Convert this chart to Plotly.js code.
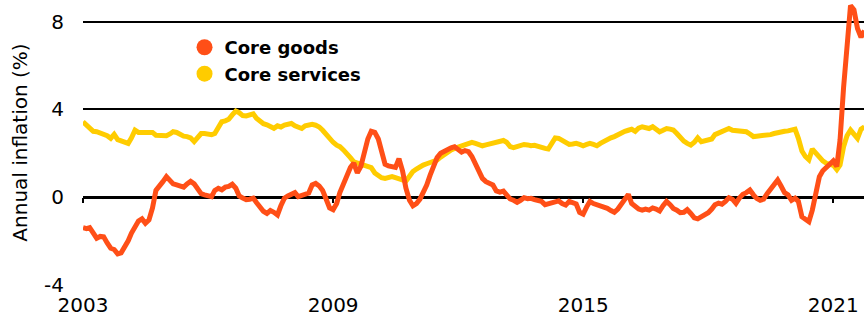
<!DOCTYPE html>
<html><head><meta charset="utf-8">
<script src="https://cdn.plot.ly/plotly-3.0.1.min.js"></script>
<style>html,body{margin:0;padding:0;background:#fff}#chart{width:864px;height:321px}</style>
</head><body><div id="chart"></div>
<script>
// Monthly annual inflation (%), starting January 2003
const startYear = 2003;
const coreGoods = [
 -1.40,-1.45,-1.40,-1.70,-1.88,-1.80,-1.82,-2.10,-2.34,-2.40,-2.60,-2.55,
 -2.30,-2.00,-1.65,-1.40,-1.10,-1.00,-1.20,-1.05,-0.50,0.30,0.55,0.70,
 0.93,0.75,0.60,0.55,0.50,0.45,0.60,0.72,0.60,0.40,0.15,0.10,
 0.05,0.02,0.30,0.40,0.33,0.45,0.48,0.58,0.40,0.05,-0.05,-0.12,
 -0.10,-0.05,-0.25,-0.45,-0.65,-0.75,-0.62,-0.70,-0.82,-0.40,-0.05,0.05,
 0.15,0.20,0.02,0.08,0.12,0.18,0.55,0.62,0.50,0.30,-0.10,-0.50,
 -0.58,-0.30,0.20,0.60,1.10,1.35,1.55,1.10,1.40,2.00,2.65,3.00,
 2.95,2.65,2.10,1.50,1.42,1.38,1.35,1.75,1.20,0.40,-0.15,-0.40,
 -0.30,-0.10,0.20,0.55,1.00,1.46,1.80,2.00,2.10,2.15,2.25,2.30,
 2.20,2.05,2.12,2.07,1.85,1.50,1.20,0.85,0.70,0.65,0.55,0.28,
 0.22,0.27,0.10,-0.09,-0.15,-0.24,-0.15,-0.03,-0.08,-0.06,-0.12,-0.14,
 -0.20,-0.35,-0.30,-0.25,-0.22,-0.18,-0.30,-0.37,-0.20,-0.25,-0.32,-0.70,
 -0.78,-0.45,-0.20,-0.30,-0.35,-0.45,-0.48,-0.52,-0.62,-0.70,-0.55,-0.35,
 -0.10,0.12,-0.30,-0.45,-0.55,-0.60,-0.55,-0.60,-0.50,-0.55,-0.64,-0.40,
 -0.20,-0.35,-0.52,-0.60,-0.72,-0.70,-0.58,-0.75,-0.95,-1.00,-0.92,-0.80,
 -0.72,-0.55,-0.35,-0.28,-0.33,-0.20,-0.03,-0.10,-0.29,-0.05,0.12,0.20,
 0.32,0.10,-0.06,-0.15,-0.10,0.15,0.35,0.60,0.78,0.50,0.20,0.10,
 -0.15,-0.05,-0.20,-0.90,-1.05,-1.13,-0.60,0.30,0.93,1.20,1.35,1.55,
 1.65,1.40,2.60,5.00,7.20,8.75,8.55,7.70,7.30,7.60
];
const coreServices = [
 3.44,3.30,3.10,3.00,2.98,2.92,2.90,2.80,2.68,2.86,2.62,2.55,
 2.50,2.45,2.70,3.05,2.95,2.95,3.00,2.98,2.95,2.82,2.80,2.80,
 2.80,2.88,2.98,2.95,2.85,2.78,2.76,2.70,2.53,2.75,2.90,2.90,
 2.88,2.85,2.90,3.15,3.44,3.48,3.55,3.75,3.93,3.85,3.72,3.70,
 3.75,3.80,3.60,3.44,3.35,3.30,3.22,3.14,3.25,3.20,3.29,3.32,
 3.36,3.25,3.20,3.13,3.25,3.30,3.32,3.28,3.20,3.05,2.85,2.65,
 2.50,2.37,2.30,2.15,2.00,1.80,1.61,1.55,1.50,1.45,1.42,1.34,
 1.10,0.95,0.88,0.85,0.92,0.93,0.88,0.82,0.78,0.73,0.95,1.16,
 1.28,1.40,1.46,1.52,1.58,1.62,1.69,1.82,1.95,2.05,2.15,2.22,
 2.28,2.30,2.35,2.45,2.50,2.45,2.38,2.34,2.38,2.42,2.45,2.45,
 2.50,2.58,2.50,2.30,2.25,2.30,2.38,2.40,2.38,2.34,2.36,2.30,
 2.28,2.22,2.19,2.45,2.70,2.68,2.60,2.50,2.40,2.42,2.45,2.40,
 2.34,2.40,2.45,2.40,2.34,2.45,2.55,2.62,2.70,2.76,2.85,2.95,
 3.00,3.05,3.10,3.00,3.15,3.21,3.15,3.13,3.21,3.10,2.98,3.05,
 3.13,3.10,3.06,2.90,2.70,2.55,2.45,2.37,2.50,2.70,2.53,2.58,
 2.60,2.65,2.85,2.92,3.00,3.10,3.13,3.05,3.02,3.00,3.00,2.98,
 2.88,2.76,2.78,2.80,2.78,2.82,2.85,2.90,2.95,2.98,3.00,3.02,
 3.05,3.10,2.68,2.10,1.85,1.70,2.19,2.00,1.84,1.65,1.54,1.50,
 1.45,1.25,1.46,2.30,2.80,3.06,2.85,2.68,3.10,3.20
];
const tickYears = ['2003','2009','2015','2021'];
const yTicks = [-4, 0, 4, 8];
const yTickText = ['-4','0','4','8'];
const seriesNames = ['Core goods','Core services'];
const seriesColors = ['#ff4f17','#ffcc00'];

function monthDates(n){
  const out = [];
  for (let i = 0; i < n; i++) {
    const y = startYear + Math.floor(i / 12);
    const m = (i % 12) + 1;
    out.push(y + '-' + String(m).padStart(2, '0') + '-01');
  }
  return out;
}
const goodsDates = monthDates(coreGoods.length);
const servicesDates = monthDates(coreServices.length);
const tickVals = tickYears.map(y => y + '-01-01');
const xRange = ['2003-01-01', '2021-09-27'];
const yRange = [-4.02, 9];
const FONT = 'DejaVu Sans, sans-serif';

const traces = [
  {x: servicesDates, y: coreServices, type: 'scatter', mode: 'lines',
   line: {color: seriesColors[1], width: 5}, showlegend: false, hoverinfo: 'skip'},
  {x: goodsDates, y: coreGoods, type: 'scatter', mode: 'lines',
   line: {color: seriesColors[0], width: 5}, showlegend: false, hoverinfo: 'skip'},
  {x: [null], y: [null], xaxis: 'x2', type: 'scatter', mode: 'markers', name: seriesNames[0],
   marker: {color: seriesColors[0], size: 16}},
  {x: [null], y: [null], xaxis: 'x2', type: 'scatter', mode: 'markers', name: seriesNames[1],
   marker: {color: seriesColors[1], size: 16}}
];

const layout = {
  width: 864, height: 321,
  margin: {l: 83, r: 0, t: 0, b: 36, pad: 0},
  paper_bgcolor: '#ffffff', plot_bgcolor: '#ffffff',
  font: {family: FONT, color: '#000000', size: 20},
  showlegend: true,
  xaxis: {type: 'date', range: xRange, tickmode: 'array', tickvals: tickVals, ticktext: tickYears,
          ticks: '', showgrid: false, zeroline: false, showline: false,
          tickfont: {family: FONT, size: 20, color: '#000'}, ticklabelstandoff: 6, fixedrange: true},
  xaxis2: {type: 'date', overlaying: 'x', anchor: 'free',
           position: (0 - yRange[0]) / (yRange[1] - yRange[0]),
           range: xRange, tickmode: 'array', tickvals: tickVals, ticks: 'outside', ticklen: 5,
           tickwidth: 2, tickcolor: '#000', showticklabels: false, showgrid: false,
           zeroline: false, showline: false, fixedrange: true},
  yaxis: {range: yRange, tickmode: 'array', tickvals: yTicks, ticktext: yTickText,
          showgrid: true, gridcolor: '#000000', gridwidth: 2,
          zeroline: true, zerolinecolor: '#000000', zerolinewidth: 3,
          showline: false, ticks: '', ticklabelstandoff: 18,
          tickfont: {family: FONT, size: 20, color: '#000'},
          title: {text: 'Annual inflation (%)', font: {family: FONT, size: 20, color: '#000'}, standoff: 11},
          fixedrange: true},
  legend: {x: 0.13, y: 0.898, xanchor: 'left', yanchor: 'top', bgcolor: 'rgba(0,0,0,0)',
           font: {family: FONT, size: 18, color: '#000', weight: 'bold'},
           itemwidth: 30, tracegroupgap: 0, borderwidth: 0}
};

Plotly.newPlot('chart', traces, layout, {displayModeBar: false, staticPlot: true});
</script>
</body></html>
